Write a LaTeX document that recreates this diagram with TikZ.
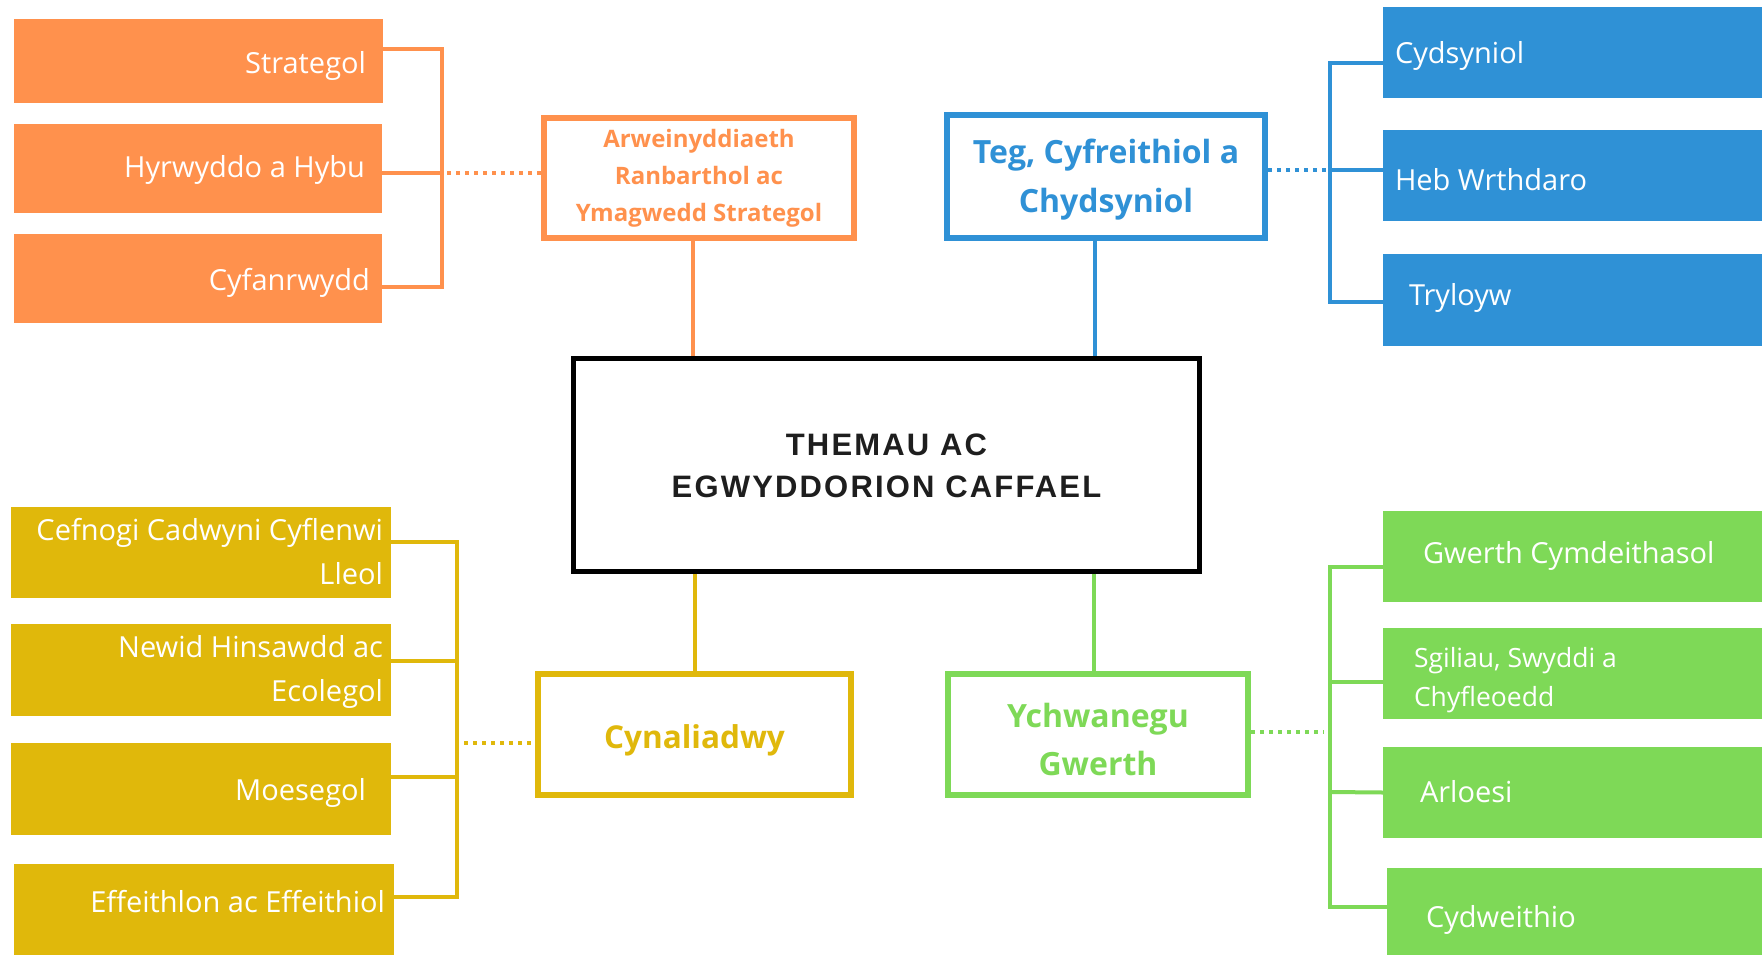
\documentclass[tikz,border=0pt]{standalone}
\usepackage{fontspec}
\setmainfont{Open Sans}
\newfontfamily\titlefont[LetterSpace=7]{Liberation Sans}
\definecolor{corange}{HTML}{FF914D}
\definecolor{cblue}{HTML}{2F91D6}
\definecolor{cyellow}{HTML}{E0B80B}
\definecolor{cgreen}{HTML}{7ED957}
\definecolor{ctitle}{HTML}{1E1E1E}
% #1 baseline offset of first line from box centre (px, downward), #2 width, #3 alignment, #4 text
\newcommand\tbx[4]{\raisebox{0pt}[\dimexpr 40pt+#1pt\relax][\dimexpr 40pt-#1pt\relax]{\parbox[t]{#2pt}{#3#4}}}
\begin{document}
\begin{tikzpicture}[x=1pt,y=-1pt,
  kid/.style={fill=#1, text=white, inner ysep=0pt, outer sep=0pt,
    font=\fontsize{29}{44}\selectfont},
  head/.style={draw=#1, line width=6pt, fill=white, text=#1,
    inner sep=0pt, font=\bfseries\fontsize{32}{49}\selectfont},
  conn/.style={draw=#1, line width=4pt},
  dots/.style={draw=#1, line width=4pt, dash pattern=on 4pt off 5pt}
]
\useasboundingbox (0,0) rectangle (1762,954);
\fill[white] (0,0) rectangle (1762,954);

% central box
\node[draw=black, line width=5pt, fill=white, minimum width=626pt, minimum height=213pt,
  inner sep=0pt, text=ctitle, font=\titlefont\bfseries\fontsize{31}{42}\selectfont]
  (C) at (886.5,465) {\tbx{-10}{600}{\centering}{THEMAU AC\\EGWYDDORION CAFFAEL}};

% heading boxes
\node[head=corange, minimum width=310pt, minimum height=120pt,
  font=\bfseries\fontsize{24}{37}\selectfont]
  (O) at (699,178) {\tbx{-31}{300}{\centering}{Arweinyddiaeth\\Ranbarthol ac\\Ymagwedd Strategol}};
\node[head=cblue, minimum width=318pt, minimum height=123pt]
  (B) at (1106,176.5) {\tbx{-13.5}{310}{\centering}{Teg, Cyfreithiol a\\Chydsyniol}};
\node[head=cyellow, minimum width=313pt, minimum height=121pt,
  font=\bfseries\fontsize{31.5}{48}\selectfont]
  (Y) at (694.5,734.5) {\tbx{13.5}{300}{\centering}{Cynaliadwy}};
\node[head=cgreen, minimum width=300pt, minimum height=121pt,
  font=\bfseries\fontsize{32}{48}\selectfont]
  (G) at (1098,734.5) {\tbx{-7.5}{290}{\centering}{Ychwanegu\\Gwerth}};

% orange children
\node[kid=corange, minimum height=84pt, inner xsep=17pt] (o1) at (198.5,61) {\tbx{12}{335}{\raggedleft}{Strategol}};
\node[kid=corange, minimum height=89pt, inner xsep=17pt] (o2) at (198,168.5) {\tbx{8.5}{334}{\raggedleft}{Hyrwyddo a Hybu}};
\node[kid=corange, minimum height=89pt, inner xsep=12pt] (o3) at (198,278.5) {\tbx{11.5}{344}{\raggedleft}{Cyfanrwydd}};

% blue children
\node[kid=cblue, minimum height=91pt, inner xsep=12pt] (b1) at (1576.5,52.5) {\tbx{10.5}{363}{\raggedright}{Cydsyniol}};
\node[kid=cblue, minimum height=91pt, inner xsep=12pt] (b2) at (1576.5,175.5) {\tbx{14.5}{363}{\raggedright}{Heb Wrthdaro}};
\node[kid=cblue, minimum height=92pt, inner xsep=26pt] (b3) at (1576.5,300) {\tbx{5}{335}{\raggedright}{Tryloyw}};

% yellow children
\node[kid=cyellow, minimum height=91pt, inner xsep=8pt] (y1) at (201,552.5) {\tbx{-12.5}{364}{\raggedleft}{Cefnogi Cadwyni Cyflenwi\\Lleol}};
\node[kid=cyellow, minimum height=92pt, inner xsep=8pt] (y2) at (201,670) {\tbx{-13}{364}{\raggedleft}{Newid Hinsawdd ac\\Ecolegol}};
\node[kid=cyellow, minimum height=92pt, inner xsep=25pt] (y3) at (201,789) {\tbx{11}{330}{\raggedleft}{Moesegol}};
\node[kid=cyellow, minimum height=94pt, inner xsep=9pt] (y4) at (204,911) {\tbx{1}{362}{\raggedleft}{Effeithlon ac Effeithiol}};

% green children
\node[kid=cgreen, minimum height=91pt, inner xsep=40pt] (g1) at (1576.5,556.5) {\tbx{6.5}{307}{\raggedright}{Gwerth Cymdeithasol}};
\node[kid=cgreen, minimum height=91pt, inner xsep=31pt,
  font=\fontsize{26.5}{39.5}\selectfont] (g2) at (1576.5,673.5) {\tbx{-6.5}{325}{\raggedright}{Sgiliau, Swyddi a\\Chyfleoedd}};
\node[kid=cgreen, minimum height=91pt, inner xsep=37pt] (g3) at (1576.5,792.5) {\tbx{9.5}{313}{\raggedright}{Arloesi}};
\node[kid=cgreen, minimum height=92pt, inner xsep=39pt] (g4) at (1578.5,914) {\tbx{13}{305}{\raggedright}{Cydweithio}};

% bracket coordinates
\coordinate (ob1) at (442,49);  \coordinate (ob2) at (442,173); \coordinate (ob3) at (442,287);
\coordinate (bb1) at (1330,63); \coordinate (bb2) at (1330,170); \coordinate (bb3) at (1330,302);
\coordinate (yb1) at (457,542); \coordinate (yb2) at (457,661); \coordinate (yb3) at (457,777);
\coordinate (yb4) at (457,897); \coordinate (yb5) at (457,743);
\coordinate (gb1) at (1330,567); \coordinate (gb2) at (1330,682); \coordinate (gb3) at (1330,792);
\coordinate (gb4) at (1330,907); \coordinate (gb5) at (1330,732);

% orange connectors
\draw[conn=corange, line join=miter] ([yshift=12pt]o1.east) -- (ob1) -- (ob3) -- ([yshift=-8.5pt]o3.east);
\draw[conn=corange] ([yshift=-4.5pt]o2.east) -- (ob2);
\draw[dots=corange] ([xshift=5pt]ob2) -- (O.west |- ob2);
\draw[conn=corange] ([xshift=-6pt]O.south) -- ([xshift=-6pt]O.south |- C.north);

% blue connectors
\draw[conn=cblue, line join=miter] ([yshift=-10.5pt]b1.west) -- (bb1) -- (bb3) -- ([yshift=-2pt]b3.west);
\draw[conn=cblue] ([yshift=5.5pt]b2.west) -- (bb2);
\draw[dots=cblue] (B.east |- bb2) -- ([xshift=-3pt]bb2);
\draw[conn=cblue] ([xshift=-11pt]B.south) -- ([xshift=-11pt]B.south |- C.north);

% yellow connectors
\draw[conn=cyellow, line join=miter] ([yshift=10.5pt]y1.east) -- (yb1) -- (yb4) -- ([yshift=14pt]y4.east);
\draw[conn=cyellow] ([yshift=9pt]y2.east) -- (yb2);
\draw[conn=cyellow] ([yshift=12pt]y3.east) -- (yb3);
\draw[dots=cyellow] ([xshift=7pt]yb5) -- (Y.west |- yb5);
\draw[conn=cyellow] (Y.north) -- (Y.north |- C.south);

% green connectors
\draw[conn=cgreen, line join=miter] ([yshift=-10.5pt]g1.west) -- (gb1) -- (gb4) -- ([yshift=7pt]g4.west);
\draw[conn=cgreen] ([yshift=-8.5pt]g2.west) -- (gb2);
\draw[conn=cgreen] (g3.west) -- (gb3);
\draw[dots=cgreen] (G.east |- gb5) -- ([xshift=-6pt]gb5);
\draw[conn=cgreen] ([xshift=-4pt]G.north) -- ([xshift=-4pt]G.north |- C.south);
\end{tikzpicture}
\end{document}
